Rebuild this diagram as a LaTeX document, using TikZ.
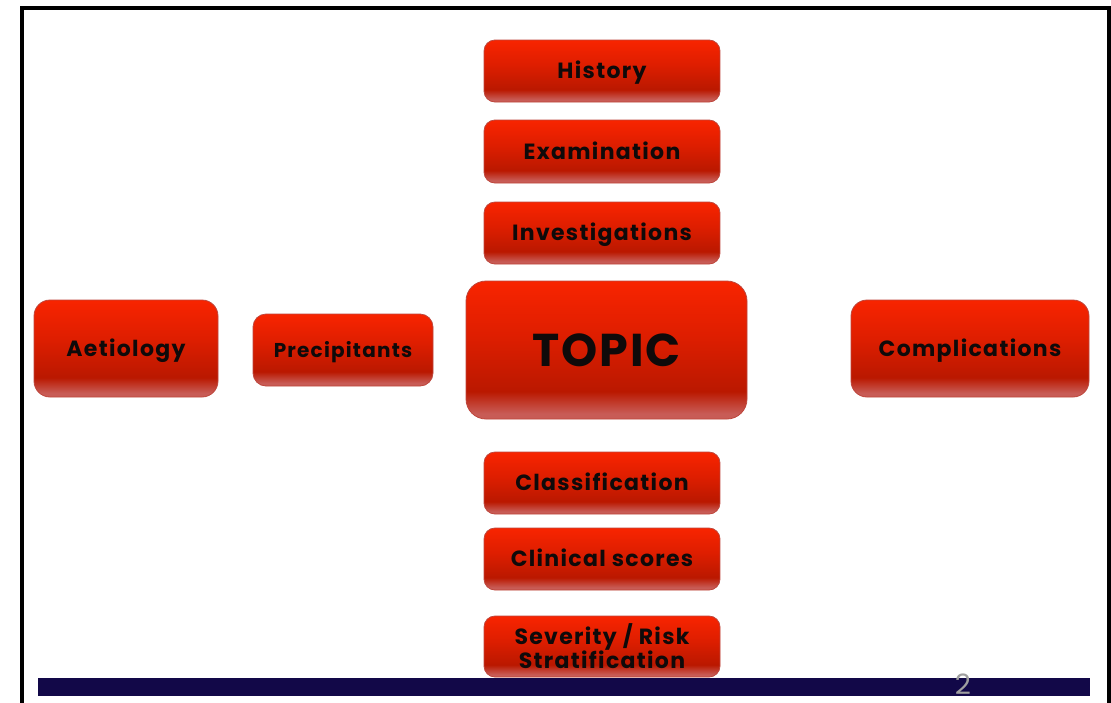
\documentclass[tikz,border=0pt]{standalone}
\usepackage{fontspec}
\setmainfont{Poppins}
\definecolor{btntop}{RGB}{248,36,0}
\definecolor{btnmid}{RGB}{222,30,0}
\definecolor{btndark}{RGB}{186,24,0}
\definecolor{btnlow}{RGB}{200,92,86}
\definecolor{btnedge}{RGB}{190,70,60}
\definecolor{barblue}{RGB}{18,8,72}
\definecolor{txt}{RGB}{15,10,10}
\pgfdeclareverticalshading{btnshade}{100bp}{color(0bp)=(btnlow); color(25bp)=(btnlow); color(27bp)=(btnlow); color(35bp)=(btndark); color(55bp)=(btnmid); color(75bp)=(btntop); color(100bp)=(btntop)}
\tikzset{
  btn/.style={draw=btnedge, line width=0.8pt, rounded corners=11pt, shading=btnshade,
    text=txt, font=\bfseries\fontsize{22}{26}\selectfont\addfontfeatures{LetterSpace=6}, align=center, inner sep=0pt},
  oneline/.style={text height=17pt, text depth=2pt},
}
\begin{document}
\begin{tikzpicture}[x=1pt,y=-1pt]
\useasboundingbox (0,0) rectangle (1111,702);
\fill[white] (0,0) rectangle (1111,702);
\draw[line width=4pt, black] (22,704) -- (22,8) -- (1109,8) -- (1109,704);
\node[btn, oneline, minimum width=236pt, minimum height=62pt] (history) at (602,71) {History};
\node[btn, oneline, minimum width=236pt, minimum height=63pt] (exam) at (602,151.5) {Examination};
\node[btn, oneline, minimum width=236pt, minimum height=62pt] (invest) at (602,233) {Investigations};
\node[btn, minimum width=281pt, minimum height=138pt, rounded corners=20pt, font=\bfseries\fontsize{46}{50}\selectfont\addfontfeatures{LetterSpace=4}] (topic) at (606.5,350) {TOPIC};
\node[btn, oneline, minimum width=184pt, minimum height=97pt, rounded corners=16pt] (aet) at (126,348.5) {Aetiology};
\node[btn, minimum width=180pt, minimum height=72pt, rounded corners=13pt, text height=16pt, text depth=2pt, font=\bfseries\fontsize{20}{24}\selectfont\addfontfeatures{LetterSpace=6}] (prec) at (343,350) {Precipitants};
\node[btn, oneline, minimum width=238pt, minimum height=97pt, rounded corners=16pt] (comp) at (970,348.5) {Complications};
\node[btn, oneline, minimum width=236pt, minimum height=62pt] (class) at (602,483) {Classification};
\node[btn, oneline, minimum width=236pt, minimum height=62pt] (clin) at (602,559) {Clinical scores};
\node[btn, minimum width=236pt, minimum height=61pt] (sev) at (602,646.5) {Severity / Risk\\[-2pt]Stratification};
\fill[barblue] (38,678) rectangle (1090,696);
\node[text=gray!75, font=\fontsize{28}{28}\selectfont, inner sep=0pt] (pnum) at (963,684) {2};
\end{tikzpicture}
\end{document}
